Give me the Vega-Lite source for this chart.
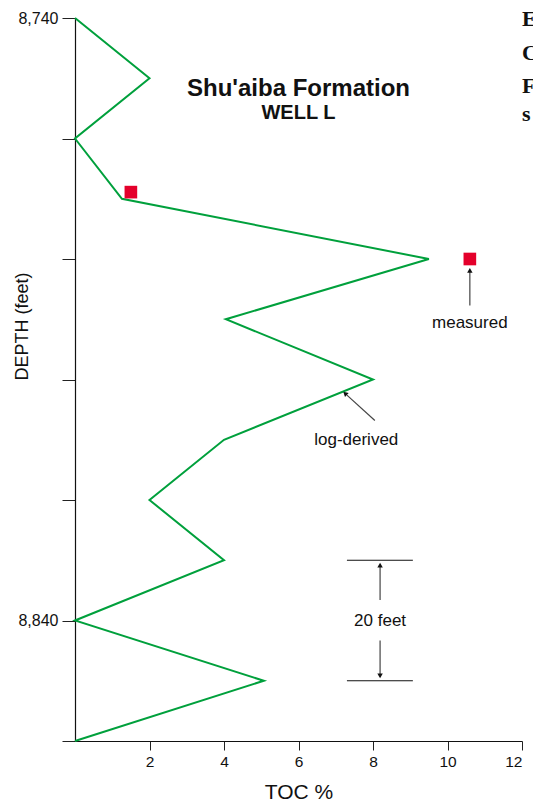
{
  "$schema": "https://vega.github.io/schema/vega-lite/v6.json",
  "width": 447,
  "height": 723,
  "autosize": {"type": "none"},
  "padding": {"left": 75, "top": 18, "right": 11, "bottom": 62},
  "background": "white",
  "config": {"view": {"stroke": null}, "font": "Liberation Sans"},
  "datasets": {
    "log": [
      {"toc": 0, "depth": 8740}, {"toc": 2, "depth": 8750}, {"toc": 0, "depth": 8760},
      {"toc": 1.26, "depth": 8770}, {"toc": 9.5, "depth": 8780}, {"toc": 4.05, "depth": 8790},
      {"toc": 8, "depth": 8800}, {"toc": 4, "depth": 8810}, {"toc": 2, "depth": 8820},
      {"toc": 4, "depth": 8830}, {"toc": 0, "depth": 8840}, {"toc": 5.07, "depth": 8850},
      {"toc": 0, "depth": 8860}
    ],
    "measured": [
      {"toc": 1.5, "depth": 8768.9}, {"toc": 10.6, "depth": 8780}
    ],
    "labels": [
      {"toc": 10.6, "depth": 8790.7, "label": "measured"},
      {"toc": 7.55, "depth": 8810.1, "label": "log-derived"},
      {"toc": 8.19, "depth": 8840, "label": "20 feet"}
    ],
    "arrows": [
      {"toc": 10.6, "depth": 8787.7, "toc2": 10.6, "depth2": 8782.0},
      {"toc": 8.05, "depth": 8806.8, "toc2": 7.3, "depth2": 8802.6},
      {"toc": 8.19, "depth": 8836.6, "toc2": 8.19, "depth2": 8830.8},
      {"toc": 8.19, "depth": 8843.3, "toc2": 8.19, "depth2": 8849.3}
    ],
    "heads": [
      {"toc": 10.6, "depth": 8781.9, "angle": 0},
      {"toc": 7.25, "depth": 8802.3, "angle": 312},
      {"toc": 8.19, "depth": 8830.8, "angle": 0},
      {"toc": 8.19, "depth": 8849.2, "angle": 180}
    ],
    "bars": [
      {"toc": 7.3, "toc2": 9.07, "depth": 8830},
      {"toc": 7.3, "toc2": 9.07, "depth": 8850}
    ],
    "titles": [
      {"toc": 6, "depth": 8751.8, "label": "Shu'aiba Formation", "size": 24},
      {"toc": 6, "depth": 8755.7, "label": "WELL L", "size": 20}
    ],
    "edge": [
      {"toc": 11.97, "depth": 8740.2, "label": "E"},
      {"toc": 11.97, "depth": 8745.8, "label": "C"},
      {"toc": 11.97, "depth": 8751.3, "label": "F"},
      {"toc": 11.97, "depth": 8756.0, "label": "s"}
    ]
  },
  "encoding": {
    "x": {
      "field": "toc", "type": "quantitative",
      "scale": {"domain": [0, 12], "nice": false, "zero": false},
      "axis": {
        "title": "TOC %", "titleFontSize": 21, "titleFontWeight": "normal", "titleColor": "#111",
        "titleBaseline": "alphabetic", "titleY": 57,
        "values": [2, 4, 6, 8, 10, 12], "grid": false,
        "labelFontSize": 15.5, "labelColor": "#111", "labelPadding": 4,
        "tickSize": 9, "tickColor": "#222", "domainColor": "#111", "domainWidth": 1.2
      }
    },
    "y": {
      "field": "depth", "type": "quantitative",
      "scale": {"domain": [8740, 8860], "reverse": true, "nice": false, "zero": false},
      "axis": {
        "title": "DEPTH (feet)", "titleFontSize": 18, "titleFontWeight": "normal", "titleColor": "#111",
        "titleBaseline": "alphabetic", "titleX": -48, "titleY": 308, "titleAlign": "center",
        "values": [8740, 8760, 8780, 8800, 8820, 8840, 8860], "grid": false,
        "labelExpr": "datum.value == 8740 || datum.value == 8840 ? format(datum.value, ',') : ''",
        "labelFontSize": 16, "labelColor": "#111", "labelPadding": 4,
        "tickSize": 13, "tickColor": "#222", "domainColor": "#111", "domainWidth": 1.2
      }
    }
  },
  "layer": [
    {
      "data": {"name": "log"},
      "mark": {"type": "line", "color": "#00a03c", "strokeWidth": 2},
      "encoding": {"order": {"field": "depth", "type": "quantitative"}}
    },
    {
      "data": {"name": "measured"},
      "mark": {"type": "square", "size": 160, "color": "#e4002b", "opacity": 1, "filled": true}
    },
    {
      "data": {"name": "bars"},
      "mark": {"type": "rule", "color": "#111", "strokeWidth": 1.2},
      "encoding": {"x2": {"field": "toc2"}}
    },
    {
      "data": {"name": "arrows"},
      "mark": {"type": "rule", "color": "#444", "strokeWidth": 1.2},
      "encoding": {"x2": {"field": "toc2"}, "y2": {"field": "depth2"}}
    },
    {
      "data": {"name": "heads"},
      "mark": {"type": "point", "shape": "triangle-up", "filled": true, "color": "#111", "size": 30, "opacity": 1},
      "encoding": {"angle": {"field": "angle", "type": "quantitative", "scale": null}}
    },
    {
      "data": {"name": "labels"},
      "mark": {"type": "text", "fontSize": 17, "color": "#111", "align": "center", "baseline": "middle"},
      "encoding": {"text": {"field": "label"}}
    },
    {
      "data": {"name": "titles"},
      "mark": {"type": "text", "fontWeight": "bold", "color": "#111", "align": "center", "baseline": "middle"},
      "encoding": {"text": {"field": "label"}, "size": {"field": "size", "type": "quantitative", "scale": null}}
    },
    {
      "data": {"name": "edge"},
      "mark": {"type": "text", "font": "Liberation Serif", "fontWeight": "bold", "fontSize": 22, "color": "#111", "align": "left", "baseline": "middle", "dx": 1},
      "encoding": {"text": {"field": "label"}}
    }
  ]
}
